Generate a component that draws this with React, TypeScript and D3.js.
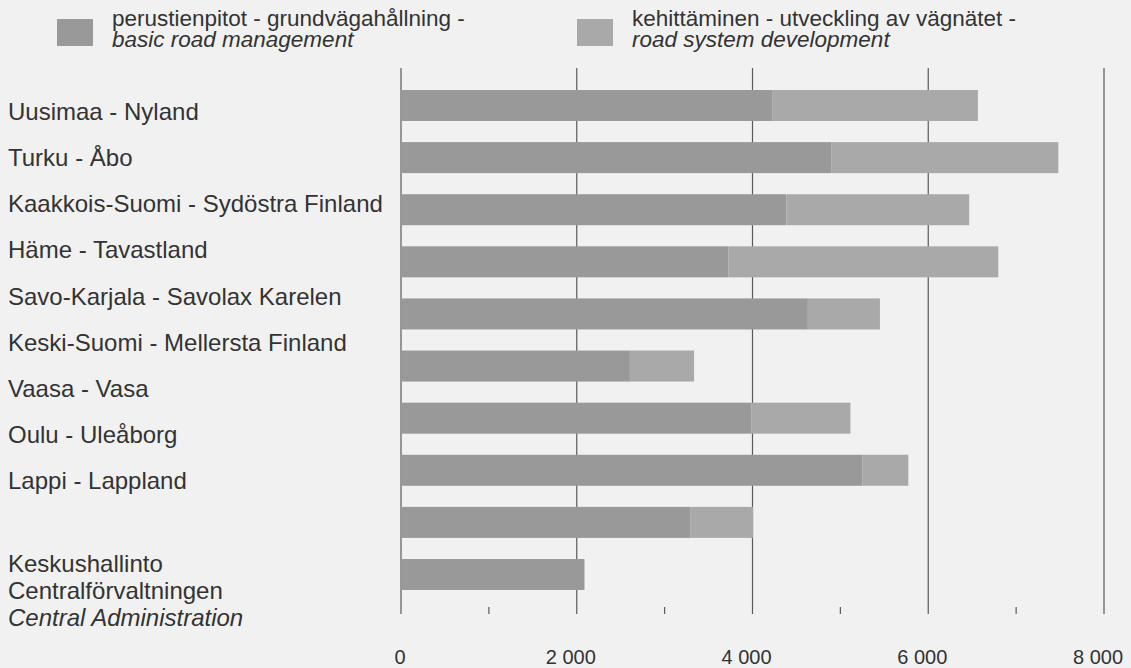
import React from "react";
import * as d3 from "d3";

const regions = [
  "Uusimaa - Nyland",
  "Turku - Åbo",
  "Kaakkois-Suomi - Sydöstra Finland",
  "Häme - Tavastland",
  "Savo-Karjala - Savolax Karelen",
  "Keski-Suomi - Mellersta Finland",
  "Vaasa - Vasa",
  "Oulu - Uleåborg",
  "Lappi - Lappland",
];
const centralLabel = ["Keskushallinto", "Centralförvaltningen", "Central Administration"];

const barIds = ["b1", "b2", "b3", "b4", "b5", "b6", "b7", "b8", "b9", "b10"];
const basicManagement = [4230, 4895, 4386, 3727, 4630, 2605, 3989, 5253, 3297, 2088];
const systemDevelopment = [2335, 2585, 2080, 3070, 820, 730, 1125, 520, 710, 0];

const majorTicks = [0, 2000, 4000, 6000, 8000];
const minorTicks = [1000, 3000, 5000, 7000];
const tickLabels = ["0", "2 000", "4 000", "6 000", "8 000"];

const legendItems = [
  { line1: "perustienpitot - grundvägahållning -", line2: "basic road management" },
  { line1: "kehittäminen - utveckling av vägnätet -", line2: "road system development" },
];

const W = 1131;
const H = 668;
const BG = "#f1f1f1";
const DARK = "#999999";
const LIGHT = "#a9a9a9";
const GRID = "#5a5a5a";
const TEXT = "#333333";
const FONT = "'Liberation Sans', Arial, Helvetica, sans-serif";

export default function App() {
  const x = d3.scaleLinear().domain([0, 8000]).range([401, 1104]);
  const y = d3
    .scaleBand<string>()
    .domain(barIds)
    .range([90, 590])
    .paddingInner(0.405)
    .paddingOuter(0);
  const labelY = d3.scaleLinear().domain([0, 8]).range([120, 489]);
  const legendX = d3.scalePoint<number>().domain([0, 1]).range([57, 577]);

  const stacked = barIds.map((id, i) => ({
    id,
    basic: basicManagement[i],
    dev: systemDevelopment[i],
  }));

  return (
    <svg
      width={W}
      height={H}
      style={{ position: "absolute", left: 0, top: 0, display: "block" }}
      fontFamily={FONT}
    >
      <rect x={0} y={0} width={W} height={H} fill={BG} />

      {/* legend */}
      {legendItems.map((it, i) => {
        const lx = legendX(i)!;
        return (
          <g key={i}>
            <rect x={lx} y={19} width={36} height={27} fill={i === 0 ? DARK : LIGHT} />
            <text x={lx + 55} y={26} fontSize={22.5} fill={TEXT}>
              {it.line1}
            </text>
            <text x={lx + 55} y={46.5} fontSize={22.5} fill={TEXT} fontStyle="italic">
              {it.line2}
            </text>
          </g>
        );
      })}

      {/* gridlines */}
      {majorTicks.map((t) => (
        <line
          key={"g" + t}
          x1={x(t)}
          x2={x(t)}
          y1={68}
          y2={614}
          stroke={GRID}
          strokeWidth={1.2}
        />
      ))}
      {minorTicks.map((t) => (
        <line
          key={"m" + t}
          x1={x(t)}
          x2={x(t)}
          y1={607}
          y2={614}
          stroke={GRID}
          strokeWidth={1.2}
        />
      ))}

      {/* bars */}
      {stacked.map((d) => (
        <g key={d.id}>
          <rect
            x={x(0)}
            y={y(d.id)}
            width={x(d.basic) - x(0)}
            height={y.bandwidth()}
            fill={DARK}
          />
          {d.dev > 0 && (
            <rect
              x={x(d.basic)}
              y={y(d.id)}
              width={x(d.basic + d.dev) - x(d.basic)}
              height={y.bandwidth()}
              fill={LIGHT}
            />
          )}
        </g>
      ))}

      {/* axis labels */}
      {majorTicks.map((t, i) => (
        <text
          key={"l" + t}
          x={x(t)}
          dx={t === 0 ? -1 : -6}
          y={664}
          fontSize={20}
          textAnchor="middle"
          fill={TEXT}
        >
          {tickLabels[i]}
        </text>
      ))}

      {/* category labels */}
      {regions.map((r, i) => (
        <text key={r} x={8} y={labelY(i)} fontSize={24} fill={TEXT}>
          {r}
        </text>
      ))}
      {centralLabel.map((l, i) => (
        <text
          key={l}
          x={8}
          y={labelY(9.8) + i * 27}
          fontSize={24}
          fill={TEXT}
          fontStyle={i === 2 ? "italic" : "normal"}
        >
          {l}
        </text>
      ))}
    </svg>
  );
}
